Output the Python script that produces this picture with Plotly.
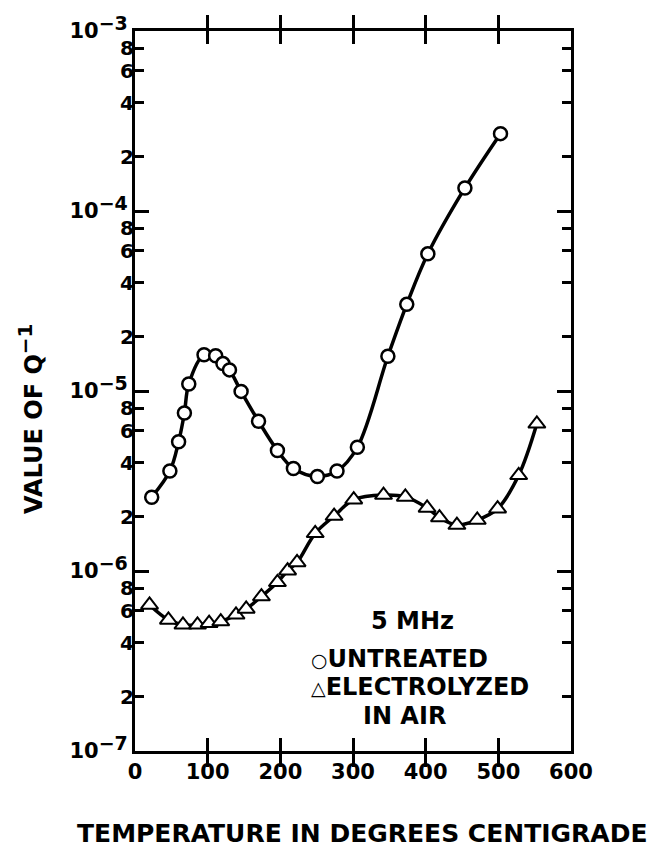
import plotly.graph_objects as go

# ---- data ----
temp_untreated = [23, 48, 60, 68, 74, 95, 111, 121, 130, 146, 170, 196, 218, 251,
                  278, 306, 348, 374, 403, 454, 503]
q_untreated = [2.57e-6, 3.59e-6, 5.22e-6, 7.55e-6, 1.094e-5, 1.59e-5, 1.57e-5,
               1.42e-5, 1.31e-5, 9.95e-6, 6.79e-6, 4.67e-6, 3.71e-6, 3.35e-6,
               3.59e-6, 4.87e-6, 1.56e-5, 3.03e-5, 5.78e-5, 1.343e-4, 2.69e-4]

temp_electro = [20, 46, 66, 86, 102, 118, 139, 153, 174, 196, 210, 223, 248, 274,
                301, 342, 372, 402, 419, 443, 471, 499, 528, 553]
q_electro = [6.48e-7, 5.35e-7, 5.02e-7, 5.02e-7, 5.13e-7, 5.24e-7, 5.71e-7, 6.16e-7,
             7.21e-7, 8.65e-7, 1.004e-6, 1.116e-6, 1.62e-6, 2.02e-6, 2.49e-6, 2.64e-6,
             2.58e-6, 2.24e-6, 1.98e-6, 1.80e-6, 1.92e-6, 2.22e-6, 3.40e-6, 6.57e-6]

x_tick_vals = [0, 100, 200, 300, 400, 500, 600]
x_tick_text = ["0", "100", "200", "300", "400", "500", "600"]

y_major_vals = [1e-7, 1e-6, 1e-5, 1e-4, 1e-3]
y_major_exps = ["-7", "-6", "-5", "-4", "-3"]
y_minor_vals = [2e-7, 4e-7, 6e-7, 8e-7,
                2e-6, 4e-6, 6e-6, 8e-6,
                2e-5, 4e-5, 6e-5, 8e-5,
                2e-4, 4e-4, 6e-4, 8e-4]
y_minor_text = ["2", "4", "6", "8"] * 4

FONT = "DejaVu Sans"

y_major_text = ["10<sup><span style='font-size:19px'>%s</span></sup>" % e.replace("-", "\u2212")
                for e in y_major_exps]

fig = go.Figure()

fig.add_trace(go.Scatter(
    x=temp_untreated, y=q_untreated, mode="lines+markers",
    line=dict(color="black", width=3.5, shape="spline", smoothing=1.0),
    marker=dict(symbol="circle", size=13, color="white",
                line=dict(color="black", width=2.5)),
    name="UNTREATED", showlegend=False))

fig.add_trace(go.Scatter(
    x=temp_electro, y=q_electro, mode="lines+markers", yaxis="y2",
    line=dict(color="black", width=3.5, shape="spline", smoothing=1.0),
    marker=dict(symbol="triangle-up", size=15, color="white",
                line=dict(color="black", width=2)),
    name="ELECTROLYZED IN AIR", showlegend=False))

fig.update_layout(
    width=652, height=851,
    margin=dict(l=135, r=81, t=29, b=100, pad=0),
    paper_bgcolor="white", plot_bgcolor="white",
    xaxis=dict(range=[0, 600], tickvals=x_tick_vals, ticktext=x_tick_text,
               ticks="inside", ticklen=13, tickwidth=2.5, tickcolor="black",
               showline=True, linewidth=3, linecolor="black", mirror="allticks",
               showgrid=False, zeroline=False,
               tickfont=dict(family=FONT, size=21, color="black", weight="bold")),
    yaxis=dict(type="log", range=[-7, -3], tickvals=y_major_vals,
               ticktext=y_major_text, ticks="inside", ticklen=14, tickwidth=2.5,
               tickcolor="black", showline=True, linewidth=3, linecolor="black",
               mirror="allticks", showgrid=False, zeroline=False,
               tickfont=dict(family=FONT, size=21, color="black", weight="bold")),
    yaxis2=dict(type="log", range=[-7, -3], overlaying="y", side="left",
                tickvals=y_minor_vals, ticktext=y_minor_text, ticks="inside",
                ticklen=9, tickwidth=2.5, tickcolor="black", showline=False,
                mirror="allticks", showgrid=False, zeroline=False,
                tickfont=dict(family=FONT, size=20, color="black", weight="bold")),
)

def px_x(px):
    return (px - 135) / 436.0

def px_y(py):
    return (751 - py) / 722.0

ann_font = dict(family=FONT, size=24, color="black", weight="bold")

fig.add_annotation(text="VALUE OF Q<sup><span style='font-size:20px'>\u22121</span></sup>",
                   textangle=-90,
                   xref="paper", yref="paper", x=px_x(31), y=px_y(418),
                   xanchor="center", yanchor="middle", showarrow=False,
                   font=dict(family=FONT, size=24, color="black", weight="bold"))

fig.add_annotation(text="TEMPERATURE IN DEGREES CENTIGRADE",
                   xref="paper", yref="paper", x=px_x(362), y=px_y(834),
                   xanchor="center", yanchor="middle", showarrow=False,
                   font=dict(family=FONT, size=25, color="black", weight="bold"))

fig.add_annotation(text="5 MHz", xref="paper", yref="paper",
                   x=px_x(412), y=px_y(621), xanchor="center", yanchor="middle",
                   showarrow=False, font=ann_font)

fig.add_annotation(text="<span style='font-size:19px'>\u25cb</span>UNTREATED",
                   xref="paper", yref="paper", x=px_x(309), y=px_y(659),
                   xanchor="left", yanchor="middle", showarrow=False, font=ann_font)

fig.add_annotation(text="<span style='font-size:19px'>\u25b3</span>ELECTROLYZED",
                   xref="paper", yref="paper", x=px_x(309), y=px_y(687),
                   xanchor="left", yanchor="middle", showarrow=False, font=ann_font)

fig.add_annotation(text="IN AIR", xref="paper", yref="paper",
                   x=px_x(404), y=px_y(716), xanchor="center", yanchor="middle",
                   showarrow=False, font=ann_font)

fig.write_html("out.html")
